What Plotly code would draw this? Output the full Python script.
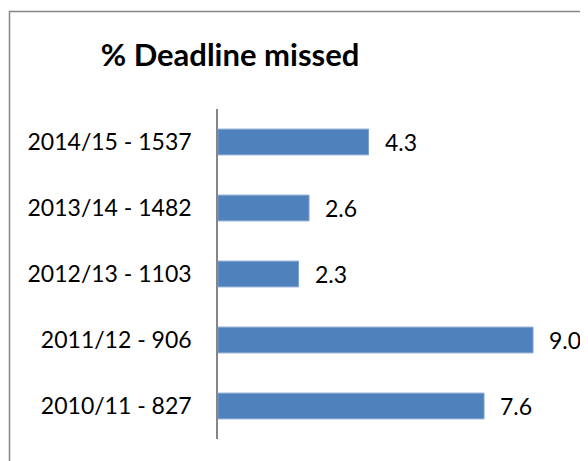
import plotly.graph_objects as go

categories = ["2010/11 - 827", "2011/12 - 906", "2012/13 - 1103", "2013/14 - 1482", "2014/15 - 1537"]
values = [7.6, 9.0, 2.3, 2.6, 4.3]
value_labels = ["7.6", "9.0", "2.3", "2.6", "4.3"]

# page body has an 8px default margin, so lay out in a 580x453 figure
OFF = 8
W, H = 588 - OFF, 461 - OFF
FONT = "Lato"
BAR = "#4F81BD"

L, R, T, B = 218 - OFF, 568 - OFF, 109 - OFF, 439 - OFF
PW, PH = R - L, B - T

fig = go.Figure(go.Bar(
    x=values, y=categories, orientation="h",
    marker=dict(color=BAR, line=dict(color="#7A9FD0", width=1)),
    width=0.39, hoverinfo="skip",
))

for c, v, t in zip(categories, values, value_labels):
    fig.add_annotation(x=v, y=c, text=t, showarrow=False, xanchor="left",
                       xshift=14, font=dict(family=FONT, size=23, color="#000000"))

# outer chart border (right and bottom edges fall outside the picture)
fig.add_shape(type="rect", xref="paper", yref="paper",
              x0=(9.5 - OFF - L) / PW, x1=(W + 10 - L) / PW,
              y0=(B - (H + 10)) / PH, y1=(B - (11.5 - OFF)) / PH,
              line=dict(color="#868686", width=1.5), fillcolor="rgba(0,0,0,0)", layer="below")

fig.update_layout(
    width=W, height=H,
    margin=dict(l=L, r=W - R, t=T, b=H - B, pad=0, autoexpand=False),
    paper_bgcolor="white", plot_bgcolor="white",
    showlegend=False,
    title=dict(text="<b>% Deadline missed</b>", x=(230 - OFF) / W, xanchor="center",
               y=1 - (55 - OFF) / H, yanchor="middle",
               xref="container", yref="container",
               font=dict(family=FONT, size=31, color="#000000")),
    xaxis=dict(range=[0, 10], visible=False, fixedrange=True),
    yaxis=dict(showline=True, linecolor="#868686", linewidth=1.5, ticks="",
               showgrid=False, zeroline=False, ticklabelstandoff=20,
               tickfont=dict(family=FONT, size=23, color="#000000"), fixedrange=True),
    bargap=0.6,
)

fig.write_html("out.html")
